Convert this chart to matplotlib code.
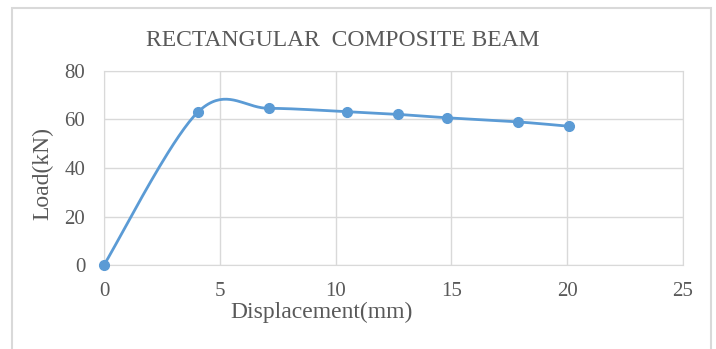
import matplotlib
matplotlib.use("Agg")
import matplotlib.pyplot as plt
import numpy as np
from matplotlib.patches import Rectangle

# data
displacement = [0.0, 4.07, 7.12, 10.5, 12.71, 14.82, 17.88, 20.09]
load = [0.0, 63.2, 64.6, 63.2, 62.1, 60.7, 59.0, 57.2]

x_ticks = [0, 5, 10, 15, 20, 25]
y_ticks = [0, 20, 40, 60, 80]

BLUE = "#5B9BD5"
GRID = "#D9D9D9"
TEXT = "#595959"


def smooth_line(xs, ys, n=40):
    # excel style smoothed line: bezier segments through every point
    pts = np.column_stack([xs, ys])
    out = []
    for i in range(len(pts) - 1):
        p0 = pts[max(i - 1, 0)]
        p1 = pts[i]
        p2 = pts[i + 1]
        p3 = pts[min(i + 2, len(pts) - 1)]
        c1 = p1 + (p2 - p0) / 6
        c2 = p2 - (p3 - p1) / 6
        t = np.linspace(0, 1, n)[:, None]
        seg = (1 - t) ** 3 * p1 + 3 * (1 - t) ** 2 * t * c1 + 3 * (1 - t) * t ** 2 * c2 + t ** 3 * p2
        out.append(seg if i == 0 else seg[1:])
    out = np.vstack(out)
    return out[:, 0], out[:, 1]


plt.rcParams["font.family"] = ["Liberation Serif", "DejaVu Serif"]

fig = plt.figure(figsize=(7.16, 3.49), dpi=100)
ax = fig.add_axes([104 / 716, 1 - 265 / 349, (683 - 104) / 716, (265 - 71) / 349])

sx, sy = smooth_line(displacement, load)
ax.plot(sx, sy, color=BLUE, linewidth=2, solid_capstyle="round", zorder=3)
ax.plot(displacement, load, "o", color=BLUE, markersize=7, zorder=4, clip_on=False)

ax.set_xlim(0, 25)
ax.set_ylim(0, 80)
ax.set_xticks(x_ticks)
ax.set_yticks(y_ticks)
ax.grid(True, color=GRID, linewidth=1)
ax.set_axisbelow(True)
for s in ax.spines.values():
    s.set_color(GRID)
ax.tick_params(length=0, labelsize=15, colors=TEXT)
ax.tick_params(axis="x", pad=12)
ax.tick_params(axis="y", pad=13.5)

ax.set_xlabel("Displacement(mm)", fontsize=17, color=TEXT, va="center")
ax.xaxis.set_label_coords(0.375, -0.245)
ax.set_ylabel("Load(kN)", fontsize=17, color=TEXT, va="center")
ax.yaxis.set_label_coords(-0.105, 0.474)
fig.text(343 / 716, 1 - 40 / 349, "RECTANGULAR  COMPOSITE BEAM", fontsize=17,
         color=TEXT, ha="center", va="center")

# chart area border
fig.patches.append(Rectangle((12 / 716, -0.05), (711 - 12) / 716, 1.05 - 8 / 349,
                             transform=fig.transFigure, fill=False,
                             edgecolor=GRID, linewidth=1.5))

fig.savefig("out.png", dpi=100)
